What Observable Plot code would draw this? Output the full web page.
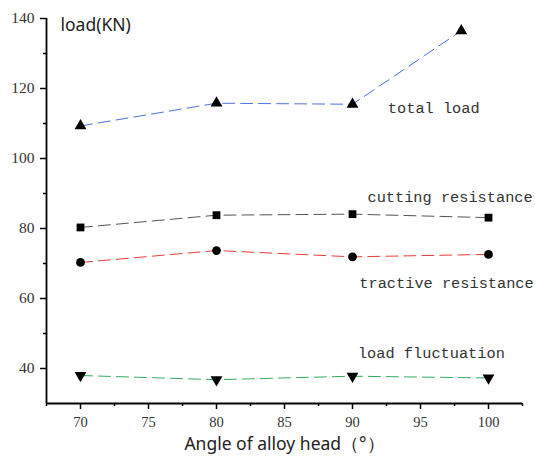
<!DOCTYPE html>
<html><head><meta charset="utf-8">
<script src="https://cdn.jsdelivr.net/npm/d3@7"></script>
<script src="https://cdn.jsdelivr.net/npm/@observablehq/plot@0.6"></script>
<style>body{margin:0;background:#fff}</style></head>
<body><div id="chart"></div>
<script>
const angles = [70, 80, 90, 100];
const totalAngles = [70, 80, 90, 98.0];
const totalLoad = [109.3, 115.8, 115.5, 136.5];
const cuttingResistance = [80.3, 83.8, 84.1, 83.1];
const tractiveResistance = [70.3, 73.7, 71.9, 72.6];
const loadFluctuation = [38.0, 36.8, 37.8, 37.3];
const xMajor = [70, 75, 80, 85, 90, 95, 100];
const xMinor = [67.5, 72.5, 77.5, 82.5, 87.5, 92.5, 97.5, 102.5];
const yMajor = [40, 60, 80, 100, 120, 140];
const yMinor = [50, 70, 90, 110, 130];
const seriesNames = ["total load", "cutting resistance", "tractive resistance", "load fluctuation"];
const seriesColors = ["#4a72e0", "#555555", "#ee3b3b", "#2fae5f"];
const labelX = [92.6, 91.1, 90.5, 90.4];
const labelY = [114.3, 89.0, 64.3, 44.3];

const serifStack = "'Liberation Serif', Tinos, 'Noto Serif', 'DejaVu Serif', 'Nimbus Roman', FreeSerif, 'Times New Roman', serif";

const sqrt3 = Math.sqrt(3);
const triangleDown = {
  draw(context, size) {
    const y = -Math.sqrt(size / (sqrt3 * 3));
    context.moveTo(0, -y * 2);
    context.lineTo(-sqrt3 * y, y);
    context.lineTo(sqrt3 * y, y);
    context.closePath();
  }
};
const seriesSymbols = ["triangle", "square", "circle", triangleDown];

const seriesX = [totalAngles, angles, angles, angles];
const seriesY = [totalLoad, cuttingResistance, tractiveResistance, loadFluctuation];
const rows = seriesNames.flatMap((name, i) => seriesX[i].map((x, j) => ({name, x, y: seriesY[i][j]})));
const labels = seriesNames.map((name, i) => ({name, x: labelX[i], y: labelY[i]}));

const seriesMarks = seriesNames.flatMap((name, i) => {
  const d = rows.filter(r => r.name === name);
  return [
    Plot.line(d, {x: "x", y: "y", stroke: seriesColors[i], strokeWidth: 1, strokeDasharray: "12,6"}),
    Plot.dot(d, {x: "x", y: "y", symbol: seriesSymbols[i], fill: "#000", r: 4.4})
  ];
});

const chart = Plot.plot({
  width: 535, height: 464,
  marginLeft: 46, marginRight: 13, marginTop: 18, marginBottom: 61,
  style: `font-family: ${serifStack}; font-size: 15px; background: #fff; color: #000;`,
  x: {domain: [67.5, 102.5], label: null},
  y: {domain: [30, 140], label: null},
  marks: [
    Plot.axisX({ticks: xMinor, tickSize: 3, tickFormat: () => "", strokeWidth: 1.5, label: null}),
    Plot.axisX({ticks: xMajor, tickSize: 6, tickPadding: 7, strokeWidth: 1.5, fontFamily: serifStack, fontSize: 14.5, fill: "#333", label: null}),
    Plot.axisY({ticks: yMinor, tickSize: 3, tickFormat: () => "", strokeWidth: 1.5, label: null}),
    Plot.axisY({ticks: yMajor, tickSize: 6, tickPadding: 6, strokeWidth: 1.5, fontFamily: serifStack, fontSize: 15.5, fill: "#333", label: null}),
    Plot.ruleX([67.5], {strokeWidth: 1.8}),
    Plot.ruleY([30], {strokeWidth: 1.8}),
    ...seriesMarks,
    Plot.text(labels, {x: "x", y: "y", text: "name", textAnchor: "start", fontFamily: "Liberation Mono", fontSize: 15.3, fill: "#333"}),
    Plot.text(["load(KN)"], {frameAnchor: "top-left", dx: 14, dy: 0, fontFamily: "Noto Sans", fontSize: 17.5, fill: "#222"}),
    Plot.text(["Angle of alloy head（°）"], {frameAnchor: "bottom", dy: 41, lineAnchor: "middle", fontFamily: "Noto Sans", fontSize: 17.5, fill: "#222"})
  ]
});
d3.select(chart).selectAll("text")
  .filter(function () { return /^\d+$/.test(this.textContent.trim()); })
  .attr("font-family", serifStack)
  .style("font-family", serifStack);
document.getElementById("chart").append(chart);
</script>
</body></html>
